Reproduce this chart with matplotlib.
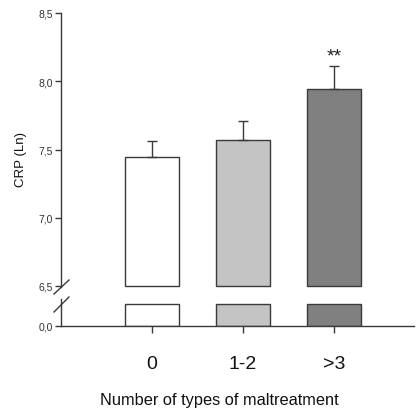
import matplotlib
matplotlib.use("Agg")
import matplotlib.pyplot as plt

plt.rcParams['font.family'] = ['Liberation Sans', 'DejaVu Sans']

categories = ["0", "1-2", ">3"]
crp_means = [7.445, 7.572, 7.943]
crp_sem = [0.12, 0.14, 0.17]
bar_colors = ["#ffffff", "#c4c4c4", "#808080"]
significance = ["", "", "**"]
upper_ticks = [6.5, 7.0, 7.5, 8.0, 8.5]
lower_ticks = [0.0]

edge = "#3a3a3a"
W, H = 416, 410
fig = plt.figure(figsize=(W / 100, H / 100), dpi=100)

left = 61 / W
width = 353 / W
ax_up = fig.add_axes([left, (H - 287) / H, width, (287 - 14) / H])
ax_lo = fig.add_axes([left, (H - 327) / H, width, (327 - 300) / H])

x = list(range(len(categories)))
xlim = (-1.0, -1.0 + 353 / 91)
lower_top = 0.6
lower_cap = 0.5

# upper panel: bars starting at the break value 6.5
ax_up.bar(x, [m - upper_ticks[0] for m in crp_means], bottom=upper_ticks[0],
          width=0.6, color=bar_colors, edgecolor=edge, linewidth=1.0,
          clip_on=False, zorder=2)
ax_up.errorbar(x, crp_means, yerr=[[0] * len(x), crp_sem], fmt='none',
               ecolor=edge, elinewidth=1.0, capsize=3.5, capthick=1.0, zorder=3)
for xi, m, e, s in zip(x, crp_means, crp_sem, significance):
    if s:
        ax_up.text(xi, m + e + 0.07, s, ha='center', va='center',
                   fontsize=14, color='#222222')
ax_up.set_ylim(upper_ticks[0], upper_ticks[-1])
ax_up.set_xlim(*xlim)
ax_up.set_yticks(upper_ticks)
ax_up.set_yticklabels([f"{t:.1f}".replace('.', ',') for t in upper_ticks])
ax_up.set_xticks([])
for sp in ['top', 'right', 'bottom']:
    ax_up.spines[sp].set_visible(False)
ax_up.spines['left'].set_color(edge)
ax_up.spines['left'].set_linewidth(1.0)
ax_up.spines['left'].set_bounds(6.5 - 0.01, 8.5)
ax_up.tick_params(axis='y', length=4, width=1.0, color=edge, labelsize=7.5,
                  pad=2, labelcolor='#333333')
ax_up.patch.set_visible(False)

# lower panel: stubs of the same bars below the break
ax_lo.bar(x, [min(m, lower_cap) for m in crp_means], width=0.6,
          color=bar_colors, edgecolor=edge, linewidth=1.0, zorder=2)
ax_lo.set_ylim(0, lower_top)
ax_lo.set_xlim(*xlim)
ax_lo.set_yticks(lower_ticks)
ax_lo.set_yticklabels([f"{t:.1f}".replace('.', ',') for t in lower_ticks])
ax_lo.set_xticks(x)
ax_lo.set_xticklabels(categories)
for sp in ['top', 'right']:
    ax_lo.spines[sp].set_visible(False)
for sp in ['left', 'bottom']:
    ax_lo.spines[sp].set_color(edge)
    ax_lo.spines[sp].set_linewidth(1.0)
ax_lo.tick_params(axis='y', length=4, width=1.0, color=edge, labelsize=7.5,
                  pad=2, labelcolor='#333333')
ax_lo.tick_params(axis='x', length=5, width=1.0, color=edge, labelsize=14,
                  pad=16, labelcolor='#111111')
ax_lo.patch.set_visible(False)

# break marks on the y axis
for y0, y1 in [(295, 281), (313, 298)]:
    fig.add_artist(plt.Line2D([54 / W, 69 / W], [(H - y0) / H, (H - y1) / H],
                              color=edge, linewidth=1.0))

fig.text(21 / W, (H - 160) / H, "CRP (Ln)", rotation=90, ha='center',
         va='center', fontsize=9.5, color='#111111')
fig.text(219 / W, (H - 401) / H,
         "Number of types of maltreatment", ha='center', va='center',
         fontsize=11.8, color='#111111')

fig.savefig("out.png", dpi=100)
